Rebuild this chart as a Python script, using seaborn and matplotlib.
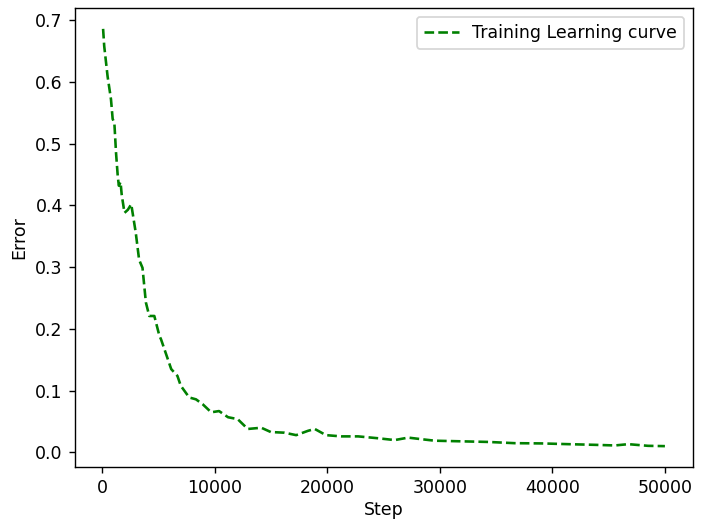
import pandas as pd
import seaborn as sns
import matplotlib
matplotlib.use('Agg')
import matplotlib.pyplot as plt

# Training error
steps = [100, 200, 500, 800, 950, 1100, 1250, 1400, 1500, 1650, 1750, 2000,
         2300, 2600, 3000, 3300, 3600, 3900, 4200, 4650, 5100, 5250, 5550,
         6150, 6700, 7000, 7750, 8350, 8950, 9700, 10400, 11200, 12050, 12950,
         14150, 15000, 16200, 17250, 18300, 18900, 19900, 21250, 22750, 24500,
         26000, 27200, 28350, 29550, 31900, 34300, 36650, 39050, 41400, 43800,
         45550, 46750, 48500, 50000]
errors = [0.686, 0.658, 0.609, 0.572, 0.540, 0.534, 0.485, 0.448, 0.432, 0.438,
          0.418, 0.388, 0.393, 0.402, 0.356, 0.312, 0.299, 0.243, 0.221, 0.221,
          0.189, 0.183, 0.167, 0.135, 0.124, 0.108, 0.089, 0.086, 0.078, 0.065,
          0.067, 0.057, 0.054, 0.038, 0.040, 0.033, 0.032, 0.028, 0.035, 0.038,
          0.028, 0.026, 0.026, 0.023, 0.020, 0.024, 0.0215, 0.019, 0.018, 0.017,
          0.015, 0.0146, 0.0134, 0.0123, 0.0113, 0.0134, 0.0107, 0.0102]

df = pd.DataFrame({'Step': steps, 'Error': errors})

fig = plt.figure(figsize=(706 / 125, 521 / 125), dpi=125)
ax = fig.add_axes([75 / 706, 54 / 521, 618 / 706, 459 / 521])

sns.lineplot(data=df, x='Step', y='Error', color='green', linestyle='--',
             label='Training Learning curve', ax=ax)

ax.set_xlabel('Step', labelpad=2)
ax.set_ylabel('Error')
ax.legend(loc='upper right')

fig.savefig('out.png', dpi=125)
